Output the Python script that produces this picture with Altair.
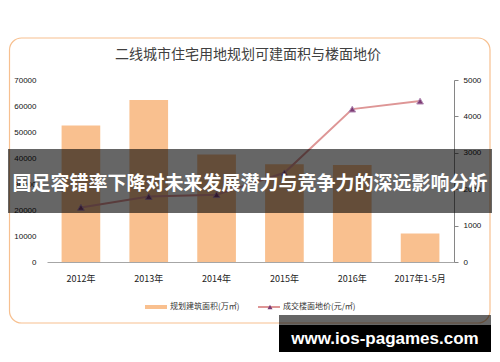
import altair as alt
import pandas as pd

years = ["2012年", "2013年", "2014年", "2015年", "2016年", "2017年1-5月"]
area = [52500, 62300, 41300, 37600, 37300, 11000]      # 规划建筑面积(万㎡)
price = [1500, 1800, 1850, 2450, 4200, 4420]           # 成交楼面地价(元/㎡)

title_text = "二线城市住宅用地规划可建面积与楼面地价"
legend_area = "规划建筑面积(万㎡)"
legend_price = "成交楼面地价(元/㎡)"
banner_text = "国足容错率下降对未来发展潜力与竞争力的深远影响分析"
wm_text = "www.ios-pagames.com"

df = pd.DataFrame({"year": years, "area": area, "price": price})
one = pd.DataFrame({"k": [0]})

CJK = "Noto Sans CJK SC"
BAR = "#F9C08F"
LINE = "#DE9696"
TRI = "#7D3C74"

xenc = alt.X(
    "year:N", sort=years,
    scale=alt.Scale(paddingInner=0.43, paddingOuter=0.215),
    axis=alt.Axis(title=None, labelAngle=0, ticks=False, tickSize=0,
                  domainColor="#A6A6A6", labelFontSize=9, labelPadding=12,
                  labelColor="#222222", labelFont=CJK),
)

bars = alt.Chart(df).mark_bar(color=BAR).encode(
    x=xenc,
    y=alt.Y("area:Q", scale=alt.Scale(domain=[0, 70000]),
            axis=alt.Axis(title=None, values=list(range(0, 70001, 10000)), format="d",
                          grid=False, domain=False, ticks=False, tickSize=0,
                          labelFontSize=8, labelPadding=11, labelColor="#111111",
                          labelFont="Liberation Sans")),
)

line = alt.Chart(df).mark_line(color=LINE, strokeWidth=2).encode(
    x=xenc,
    y=alt.Y("price:Q", scale=alt.Scale(domain=[0, 5000]),
            axis=alt.Axis(orient="right", title=None, values=[0, 1000, 2000, 3000, 4000, 5000],
                          format="d", grid=False, domainColor="#868686", tickColor="#868686",
                          tickSize=4, labelPadding=5, labelFontSize=8,
                          labelColor="#111111", labelFont="Liberation Sans")),
)

pts = alt.Chart(df).mark_point(shape="triangle-up", filled=True, size=45, fill=TRI,
                               stroke="#B48CB4", strokeWidth=1, opacity=1).encode(
    x=xenc,
    y=alt.Y("price:Q", scale=alt.Scale(domain=[0, 5000]), axis=None),
)

border = alt.Chart(one).mark_rect(fill="white", fillOpacity=0, stroke="#F7C090",
                                  strokeWidth=1.2, cornerRadius=12).encode(
    x=alt.value(-37.5), x2=alt.value(443), y=alt.value(-42), y2=alt.value(243))

title = alt.Chart(one).mark_text(text=title_text, font=CJK, fontSize=14, color="#404040",
                                 align="center", baseline="middle").encode(
    x=alt.value(201), y=alt.value(-25))

leg_rect = alt.Chart(one).mark_rect(color=BAR).encode(
    x=alt.value(98), x2=alt.value(120), y=alt.value(225), y2=alt.value(229))
leg_t1 = alt.Chart(one).mark_text(text=legend_area, font=CJK, fontSize=8, color="#333333",
                                  align="left", baseline="middle").encode(
    x=alt.value(123), y=alt.value(227))
leg_rule = alt.Chart(one).mark_rule(color=LINE, strokeWidth=2).encode(
    x=alt.value(211), x2=alt.value(233), y=alt.value(227))
leg_tri = alt.Chart(one).mark_point(shape="triangle-up", filled=True, size=25, fill=TRI,
                                    opacity=1).encode(x=alt.value(223), y=alt.value(227))
leg_t2 = alt.Chart(one).mark_text(text=legend_price, font=CJK, fontSize=8, color="#333333",
                                  align="left", baseline="middle").encode(
    x=alt.value(236), y=alt.value(227))

banner = alt.Chart(one).mark_rect(color="black", opacity=0.6).encode(
    x=alt.value(-40), x2=alt.value(446), y=alt.value(69), y2=alt.value(133))
banner_t = alt.Chart(one).mark_text(text=banner_text, font=CJK, fontSize=19, fontWeight="bold",
                                    color="white", align="center", baseline="middle").encode(
    x=alt.value(203), y=alt.value(104))

wm_gray = alt.Chart(one).mark_rect(color="black", opacity=0.6).encode(
    x=alt.value(232), x2=alt.value(444), y=alt.value(235), y2=alt.value(245))
wm_black = alt.Chart(one).mark_rect(color="black", opacity=1).encode(
    x=alt.value(232), x2=alt.value(444), y=alt.value(245), y2=alt.value(272))
wm_t = alt.Chart(one).mark_text(text=wm_text, font="Liberation Sans", fontSize=17,
                                fontWeight="bold", color="white", align="center",
                                baseline="middle").encode(x=alt.value(338), y=alt.value(259))

chart = alt.layer(
    border, bars, line, pts, title, leg_rect, leg_t1, leg_rule, leg_tri, leg_t2,
    banner, banner_t, wm_gray, wm_black, wm_t,
).resolve_scale(y="independent").properties(
    width=407, height=182,
    padding={"left": 39, "right": 38, "top": 72, "bottom": 92},
    autosize=alt.AutoSizeParams(type="none"),
).configure_view(strokeWidth=0)

chart.save("out.html", embed_options={"renderer": "svg", "actions": False})
